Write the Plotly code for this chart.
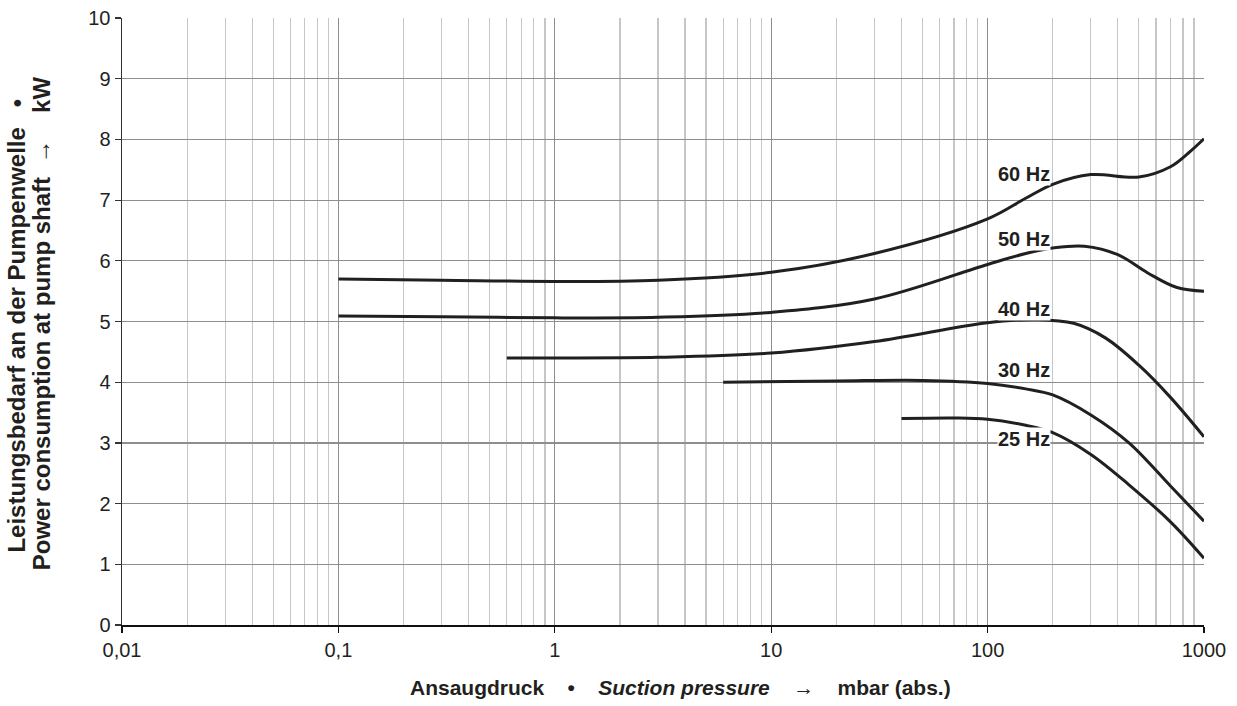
import math
import plotly.graph_objects as go

# ---- data ----
x_60 = [0.1, 0.3, 1, 3, 10, 30, 100, 150, 200, 300, 500, 700, 850, 1000]
y_60 = [5.70, 5.68, 5.66, 5.68, 5.81, 6.12, 6.69, 7.03, 7.26, 7.42, 7.38, 7.55, 7.78, 8.01]

x_50 = [0.1, 0.3, 1, 3, 10, 30, 100, 150, 200, 280, 400, 550, 750, 1000]
y_50 = [5.09, 5.08, 5.06, 5.07, 5.15, 5.37, 5.94, 6.12, 6.21, 6.24, 6.10, 5.80, 5.56, 5.50]

x_40 = [0.6, 1, 3, 10, 30, 100, 170, 250, 350, 500, 700, 1000]
y_40 = [4.40, 4.40, 4.41, 4.48, 4.67, 4.98, 5.03, 4.97, 4.73, 4.28, 3.75, 3.10]

x_30 = [6, 20, 50, 100, 150, 200, 300, 450, 700, 1000]
y_30 = [4.00, 4.02, 4.03, 3.98, 3.89, 3.79, 3.46, 3.00, 2.29, 1.71]

x_25 = [40, 70, 100, 150, 200, 300, 450, 700, 1000]
y_25 = [3.40, 3.41, 3.39, 3.29, 3.17, 2.81, 2.31, 1.70, 1.10]

series_names = ["60 Hz", "50 Hz", "40 Hz", "30 Hz", "25 Hz"]
series_x = [x_60, x_50, x_40, x_30, x_25]
series_y = [y_60, y_50, y_40, y_30, y_25]

label_x = 147
label_y = [7.43, 6.36, 5.20, 4.20, 3.07]

x_tickvals = [0.01, 0.1, 1, 10, 100, 1000]
x_ticktext = ["0,01", "0,1", "1", "10", "100", "1000"]
y_tickvals = list(range(0, 11))

# ---- styling ----
FONT = "Liberation Sans, Arial, Helvetica, sans-serif"
LINE_COLOR = "#231f20"
MAJOR_GRID = "#8e8e8e"
MINOR_GRID = "#c6c6c6"

fig = go.Figure()
for name, xs, ys in zip(series_names, series_x, series_y):
    fig.add_trace(go.Scatter(
        x=xs, y=ys, mode="lines", name=name,
        line=dict(color=LINE_COLOR, width=3, shape="spline", smoothing=1.0),
        showlegend=False, hoverinfo="skip",
    ))

for name, ly in zip(series_names, label_y):
    fig.add_annotation(
        x=math.log10(label_x), y=ly, xref="x", yref="y", text="<b>" + name + "</b>",
        showarrow=False, xanchor="center", yanchor="middle",
        font=dict(family=FONT, size=20, color=LINE_COLOR),
        bgcolor="white", borderpad=0,
    )

nb = "\u00a0"
xtitle = ("<b>Ansaugdruck" + nb * 4 + "•" + nb * 4 + "<i>Suction pressure</i>" + nb * 4 +
          "→" + nb * 4 + "mbar (abs.)</b>")
fig.add_annotation(
    x=0.516, y=-0.1025, xref="paper", yref="paper", text=xtitle, showarrow=False,
    xanchor="center", yanchor="middle", font=dict(family=FONT, size=21, color=LINE_COLOR),
)

ytitle1 = "<b>Leistungsbedarf an der Pumpenwelle" + nb * 3 + "•</b>"
ytitle2 = "<b>Power consumption at pump shaft" + nb * 2 + "→" + nb * 4 + "kW</b>"
fig.add_annotation(
    x=-0.0975, y=0.4925, xref="paper", yref="paper", text=ytitle1, showarrow=False,
    textangle=-90, xanchor="center", yanchor="middle",
    font=dict(family=FONT, size=24, color=LINE_COLOR),
)
fig.add_annotation(
    x=-0.0749, y=0.497, xref="paper", yref="paper", text=ytitle2, showarrow=False,
    textangle=-90, xanchor="center", yanchor="middle",
    font=dict(family=FONT, size=24, color=LINE_COLOR),
)

fig.update_layout(
    width=1237, height=706,
    margin=dict(l=122, r=33, t=18, b=81, autoexpand=False),
    paper_bgcolor="white", plot_bgcolor="white",
    font=dict(family=FONT, size=20, color=LINE_COLOR),
    xaxis=dict(
        type="log", range=[-2, 3],
        tickvals=x_tickvals, ticktext=x_ticktext,
        showgrid=True, gridcolor=MAJOR_GRID, gridwidth=1.2,
        minor=dict(dtick="D1", showgrid=True, gridcolor=MINOR_GRID, gridwidth=1.2, ticks=""),
        showline=True, linecolor="#111111", linewidth=1.5,
        ticks="outside", ticklen=6, tickwidth=1.2, tickcolor="#111111",
        tickfont=dict(family=FONT, size=20, color=LINE_COLOR),
        zeroline=False, fixedrange=True, automargin=False,
    ),
    yaxis=dict(
        range=[0, 10], tickvals=y_tickvals,
        showgrid=True, gridcolor=MAJOR_GRID, gridwidth=1.2,
        showline=True, linecolor="#333333", linewidth=1.5,
        ticks="outside", ticklen=6, tickwidth=1.2, tickcolor="#333333",
        tickfont=dict(family=FONT, size=20, color=LINE_COLOR),
        zeroline=False, fixedrange=True, automargin=False,
    ),
)

fig.write_html(
    "out.html",
    config={"displayModeBar": False, "staticPlot": True},
    post_script="document.body.style.margin='0';document.body.style.padding='0';"
                "document.documentElement.style.overflow='hidden';",
)
